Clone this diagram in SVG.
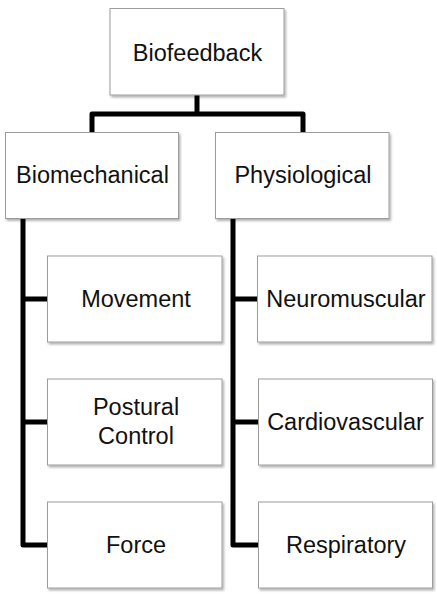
<svg xmlns="http://www.w3.org/2000/svg" width="437" height="594" viewBox="0 0 437 594">
  <defs>
    <filter id="shadow" x="-10%" y="-10%" width="125%" height="130%">
      <feDropShadow dx="1.5" dy="2" stdDeviation="1.2" flood-color="#000" flood-opacity="0.3"/>
    </filter>
  </defs>
  <style>
    .box { fill: #ffffff; stroke: #9c9c9c; stroke-width: 1; filter: url(#shadow); }
    .lbl { font-family: "Liberation Sans", Arial, sans-serif; font-size: 23.5px; fill: #111111; text-anchor: middle; }
    .conn { fill: none; stroke: #000000; stroke-width: 5; stroke-linejoin: round; stroke-linecap: butt; }
  </style>
  <rect width="437" height="594" fill="#ffffff"/>
  <g id="connectors">
    <path class="conn" d="M197,95 V114"/>
    <path class="conn" d="M92,132 V114 H303 V132"/>
    <path class="conn" d="M23,218 V545 H47"/>
    <path class="conn" d="M23,299 H47"/>
    <path class="conn" d="M23,422 H47"/>
    <path class="conn" d="M233,218 V545 H258"/>
    <path class="conn" d="M233,299 H258"/>
    <path class="conn" d="M233,422 H258"/>
  </g>
  <g id="biofeedback">
    <rect class="box" x="110" y="8.5" width="174" height="86.5"/>
    <text class="lbl" x="197.5" y="61">Biofeedback</text>
  </g>
  <g id="biomechanical">
    <rect class="box" x="5.5" y="132.5" width="173" height="86"/>
    <text class="lbl" x="92.5" y="183">Biomechanical</text>
  </g>
  <g id="physiological">
    <rect class="box" x="215.5" y="132.5" width="173.5" height="86"/>
    <text class="lbl" x="303" y="183">Physiological</text>
  </g>
  <g id="movement">
    <rect class="box" x="47.5" y="256" width="174.5" height="86"/>
    <text class="lbl" x="136" y="307">Movement</text>
  </g>
  <g id="postural-control">
    <rect class="box" x="47.5" y="379" width="174.5" height="86"/>
    <text class="lbl" x="136" y="415">Postural</text>
    <text class="lbl" x="136" y="444">Control</text>
  </g>
  <g id="force">
    <rect class="box" x="47.5" y="502" width="174.5" height="86"/>
    <text class="lbl" x="136" y="553">Force</text>
  </g>
  <g id="neuromuscular">
    <rect class="box" x="257.5" y="256" width="174.5" height="86"/>
    <text class="lbl" x="346" y="307">Neuromuscular</text>
  </g>
  <g id="cardiovascular">
    <rect class="box" x="258.5" y="379" width="174" height="86"/>
    <text class="lbl" x="345.5" y="430">Cardiovascular</text>
  </g>
  <g id="respiratory">
    <rect class="box" x="258.5" y="502" width="174" height="86"/>
    <text class="lbl" x="346" y="553">Respiratory</text>
  </g>
</svg>
